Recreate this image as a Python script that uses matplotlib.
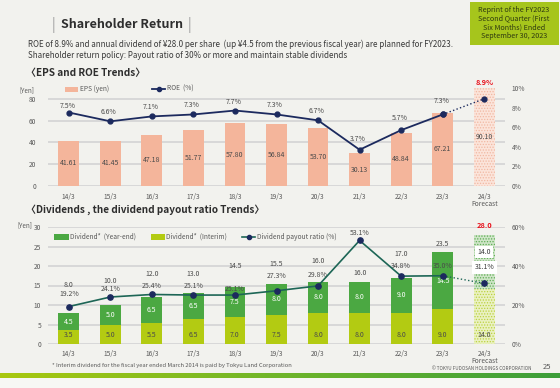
import matplotlib
matplotlib.use("Agg")
import matplotlib.pyplot as plt
import numpy as np
from matplotlib.patches import Rectangle
from matplotlib.lines import Line2D
from matplotlib.colors import LinearSegmentedColormap

plt.rcParams['font.family'] = ['Noto Sans CJK JP', 'DejaVu Sans']
plt.rcParams['hatch.linewidth'] = 0.6

# Dados
anos = ['14/3', '15/3', '16/3', '17/3', '18/3', '19/3', '20/3', '21/3', '22/3', '23/3', '24/3\nForecast']
eps = [41.61, 41.45, 47.18, 51.77, 57.80, 56.84, 53.70, 30.13, 48.84, 67.21, 90.10]
roe = [7.5, 6.6, 7.1, 7.3, 7.7, 7.3, 6.7, 3.7, 5.7, 7.3, 8.9]

div_interim = [3.5, 5.0, 5.5, 6.5, 7.0, 7.5, 8.0, 8.0, 8.0, 9.0, 14.0]
div_yearend = [4.5, 5.0, 6.5, 6.5, 7.5, 8.0, 8.0, 8.0, 9.0, 14.5, 14.0]
div_total = [8.0, 10.0, 12.0, 13.0, 14.5, 15.5, 16.0, 16.0, 17.0, 23.5, 28.0]
payout = [19.2, 24.1, 25.4, 25.1, 25.1, 27.3, 29.8, 53.1, 34.8, 35.0, 31.1]

# posicoes dos rotulos (layout, em pontos acima do marcador)
roe_dy = [4.5, 6.5, 6.5, 6.5, 6.5, 6.5, 6.5, 8, 8.5, 10]
payout_dy = [9, 5.8, 6.1, 6.5, 4.3, 10.7, 7.8, 5.4, 7.2, 7.1]
total_y = [15.1, 16.2, 17.9, 17.9, 20.0, 20.5, 21.3, 18.2, 23.1, 25.6]

W, H = 560, 388
fig = plt.figure(figsize=(5.6, 3.88), dpi=100, facecolor='#f2f2ee')


def fx(x):
    return x / W


def fy(y):
    return 1 - y / H


txt = '#3a3a3a'
gray = '#595959'
x = np.arange(len(anos))

# cabecalho
fig.text(fx(53), fy(25), '|', color='#9a9a9a', fontsize=10, va='center', ha='center')
fig.text(fx(61), fy(25), 'Shareholder Return', color='#2e2e2e', fontsize=9, weight='bold', va='center')
fig.text(fx(189), fy(25), '|', color='#9a9a9a', fontsize=10, va='center', ha='center')
fig.patches.append(Rectangle((fx(470), fy(45)), fx(89), 43 / H, transform=fig.transFigure,
                             facecolor='#a6c51c', edgecolor='none'))
fig.text(fx(514), fy(23), 'Reprint of the FY2023\nSecond Quarter (First\nSix Months) Ended\nSeptember 30, 2023',
         ha='center', va='center', fontsize=5.2, color='#2f3a10', linespacing=1.15)
fig.text(fx(28), fy(44), 'ROE of 8.9% and annual dividend of ¥28.0 per share  (up ¥4.5 from the previous fiscal year) '
         'are planned for FY2023.', fontsize=5.8, color=txt, va='center')
fig.text(fx(28), fy(56), 'Shareholder return policy: Payout ratio of 30% or more and maintain stable dividends',
         fontsize=5.8, color=txt, va='center')
fig.text(fx(26), fy(73), '〈EPS and ROE Trends〉', fontsize=7.2, weight='bold', color='#2e2e2e', va='center')
fig.text(fx(26), fy(210), '〈Dividends , the dividend payout ratio Trends〉', fontsize=7.2, weight='bold',
         color='#2e2e2e', va='center')


def estilo(ax):
    for s in ax.spines.values():
        s.set_visible(False)
    ax.tick_params(length=0, labelsize=4.8, labelcolor=gray)
    ax.set_facecolor('none')


# ---------------- EPS / ROE ----------------
ax1 = fig.add_axes([fx(48), fy(186), fx(457), 98 / H])
ax1.set_xlim(-0.5, len(anos) - 0.5)
ax1.set_ylim(0, 90)
ax1.set_yticks([0, 20, 40, 60, 80])
ax1.grid(axis='y', color='#d6d6d6', lw=1.3)
ax1.set_axisbelow(True)
estilo(ax1)
ax1.tick_params(axis='y', pad=8.5)
ax1.set_xticks(x)
ax1.set_xticklabels(anos, linespacing=0.8)
ax1.tick_params(axis='x', pad=5)

ax1.bar(x[:-1], eps[:-1], width=0.5, color='#f4b59b', zorder=2)
ax1.bar(x[-1], eps[-1], width=0.5, color='#fbe4da', edgecolor='#f1b8a2', hatch='......', lw=0, zorder=2)
for i, v in enumerate(eps):
    ax1.text(i, v / 2, f'{v:.2f}', ha='center', va='center', fontsize=5, color='#4a4a4a', zorder=3)

ax1b = ax1.twinx()
estilo(ax1b)
ax1b.set_ylim(0, 10)
ax1b.set_yticks(range(0, 11, 2))
ax1b.set_yticklabels([f'{t}%' for t in range(0, 11, 2)])
ax1b.tick_params(axis='y', pad=5)
navy = '#1c2a5e'
ax1b.plot(x[:-1], roe[:-1], color=navy, lw=1.3, marker='o', ms=3.5, zorder=4)
ax1b.plot(x[-2:], roe[-2:], color=navy, lw=1.0, ls=':', marker='o', ms=3.5, zorder=4)
for i, v in enumerate(roe[:-1]):
    ax1b.annotate(f'{v}%', (i, v), xytext=(-1, roe_dy[i]), textcoords='offset points',
                  ha='center', va='center', fontsize=5, color='#4a4a4a')
ax1b.text(x[-1], 10.2, f'{roe[-1]}%', ha='center', va='bottom', fontsize=5.3, color='#e8101a', weight='bold')

# legenda 1
fig.patches.append(Rectangle((fx(65), fy(92)), fx(13), 5 / H, transform=fig.transFigure,
                             facecolor='#f4b59b', edgecolor='none'))
fig.text(fx(80), fy(89), 'EPS (yen)', fontsize=4.8, color=gray, va='center')
fig.lines.append(Line2D([fx(152), fx(165)], [fy(89), fy(89)], transform=fig.transFigure, color=navy, lw=1.3))
fig.lines.append(Line2D([fx(158.5)], [fy(89)], transform=fig.transFigure, color=navy, marker='o', ms=3))
fig.text(fx(167), fy(89), 'ROE  (%)', fontsize=4.8, color=gray, va='center')
fig.text(fx(19), fy(90), '[Yen]', fontsize=4.6, color=gray, va='center')

# ---------------- Dividendos ----------------
ax2 = fig.add_axes([fx(48), fy(344), fx(457), 117 / H])
ax2.set_xlim(-0.5, len(anos) - 0.5)
ax2.set_ylim(0, 30)
ax2.set_yticks(range(0, 31, 5))
ax2.grid(axis='y', color='#d6d6d6', lw=1.3)
ax2.set_axisbelow(True)
estilo(ax2)
ax2.tick_params(axis='y', pad=5)
ax2.set_xticks(x)
ax2.set_xticklabels(anos, linespacing=0.8)
ax2.tick_params(axis='x', pad=4.5)

verde_cl = '#b3cb12'
verde = '#4ba842'
ax2.bar(x[:-1], div_interim[:-1], width=0.5, color=verde_cl, zorder=2)
ax2.bar(x[:-1], div_yearend[:-1], bottom=div_interim[:-1], width=0.5, color=verde, zorder=2)
ax2.bar(x[-1], div_interim[-1], width=0.5, color='#eaf1c2', edgecolor='#bcd23e', hatch='......', lw=0, zorder=2)
ax2.bar(x[-1], div_yearend[-1], bottom=div_interim[-1], width=0.5, color='#cfe5c8', edgecolor='#5fae55',
        hatch='......', lw=0, zorder=2)
for i in range(len(anos)):
    ax2.text(i, 2.3, f'{div_interim[i]:.1f}', ha='center', va='center', fontsize=5, color='#4a4a4a', zorder=3)
for i in range(len(anos) - 1):
    ax2.text(i, div_interim[i] + div_yearend[i] / 2, f'{div_yearend[i]:.1f}', ha='center', va='center',
             fontsize=5, color='white', zorder=3)
    ax2.text(i, total_y[i], f'{div_total[i]:.1f}', ha='center', va='center', fontsize=5, color='#4a4a4a')
ax2.text(x[-1], 23.6, f'{div_yearend[-1]:.1f}', ha='center', va='center', fontsize=5, color='#3a3a3a', zorder=6,
         bbox=dict(boxstyle='square,pad=0.35', fc='white', ec='none'))
ax2.text(x[-1], 30.4, f'{div_total[-1]:.1f}', ha='center', va='center', fontsize=5.3, color='#e8101a',
         weight='bold')

ax2b = ax2.twinx()
estilo(ax2b)
ax2b.set_ylim(0, 60)
ax2b.set_yticks(range(0, 61, 20))
ax2b.set_yticklabels([f'{t}%' for t in range(0, 61, 20)])
ax2b.tick_params(axis='y', pad=5)
teal = '#1d6656'
ax2b.plot(x[:-1], payout[:-1], color=teal, lw=1.2, zorder=4)
ax2b.plot(x[-2:], payout[-2:], color=teal, lw=1.0, ls=':', zorder=4)
ax2b.plot(x, payout, ls='none', marker='o', ms=3.8, color=navy, zorder=5)
for i, v in enumerate(payout[:-1]):
    ax2b.annotate(f'{v}%', (i, v), xytext=(0, payout_dy[i]), textcoords='offset points',
                  ha='center', va='center', fontsize=5, color='#4a4a4a')
ax2b.text(x[-1], 39.4, f'{payout[-1]}%', ha='center', va='center', fontsize=5, color='#3a3a3a', zorder=6,
          bbox=dict(boxstyle='square,pad=0.35', fc='white', ec='none'))

# legenda 2
fig.patches.append(Rectangle((fx(54), fy(240)), fx(15), 6 / H, transform=fig.transFigure,
                             facecolor=verde, edgecolor='none'))
fig.text(fx(70), fy(237), 'Dividend*  (Year-end)', fontsize=4.8, color=gray, va='center')
fig.patches.append(Rectangle((fx(151), fy(240)), fx(14), 6 / H, transform=fig.transFigure,
                             facecolor=verde_cl, edgecolor='none'))
fig.text(fx(166), fy(237), 'Dividend*  (Interim)', fontsize=4.8, color=gray, va='center')
fig.lines.append(Line2D([fx(242), fx(255)], [fy(237), fy(237)], transform=fig.transFigure, color=teal, lw=1.2))
fig.lines.append(Line2D([fx(248.5)], [fy(237)], transform=fig.transFigure, color=navy, marker='o', ms=3))
fig.text(fx(257), fy(237), 'Dividend payout ratio (%)', fontsize=4.8, color=gray, va='center')
fig.text(fx(17), fy(225), '[Yen]', fontsize=4.6, color=gray, va='center')

# rodape
fig.text(fx(52), fy(365), '* Interim dividend for the fiscal year ended March 2014 is paid by Tokyu Land Corporation',
         fontsize=4.2, color=gray, va='center')
fig.text(fx(432), fy(368), '© TOKYU FUDOSAN HOLDINGS CORPORATION', fontsize=3.3, color=gray, va='center')
fig.text(fx(543), fy(367), '25', fontsize=5.5, color=gray, va='center')

fig.patches.append(Rectangle((0, 0), 1, 10 / H, transform=fig.transFigure, facecolor='#f7f7f4', edgecolor='none'))
axs = fig.add_axes([0, fy(378), 1, 5 / H])
cmap = LinearSegmentedColormap.from_list('faixa', ['#a9c80f', '#6fb52a', '#3c9e3a'])
axs.imshow(np.linspace(0, 1, 256)[None, :], aspect='auto', cmap=cmap)
axs.axis('off')

fig.savefig('out.png', dpi=100, facecolor=fig.get_facecolor())
